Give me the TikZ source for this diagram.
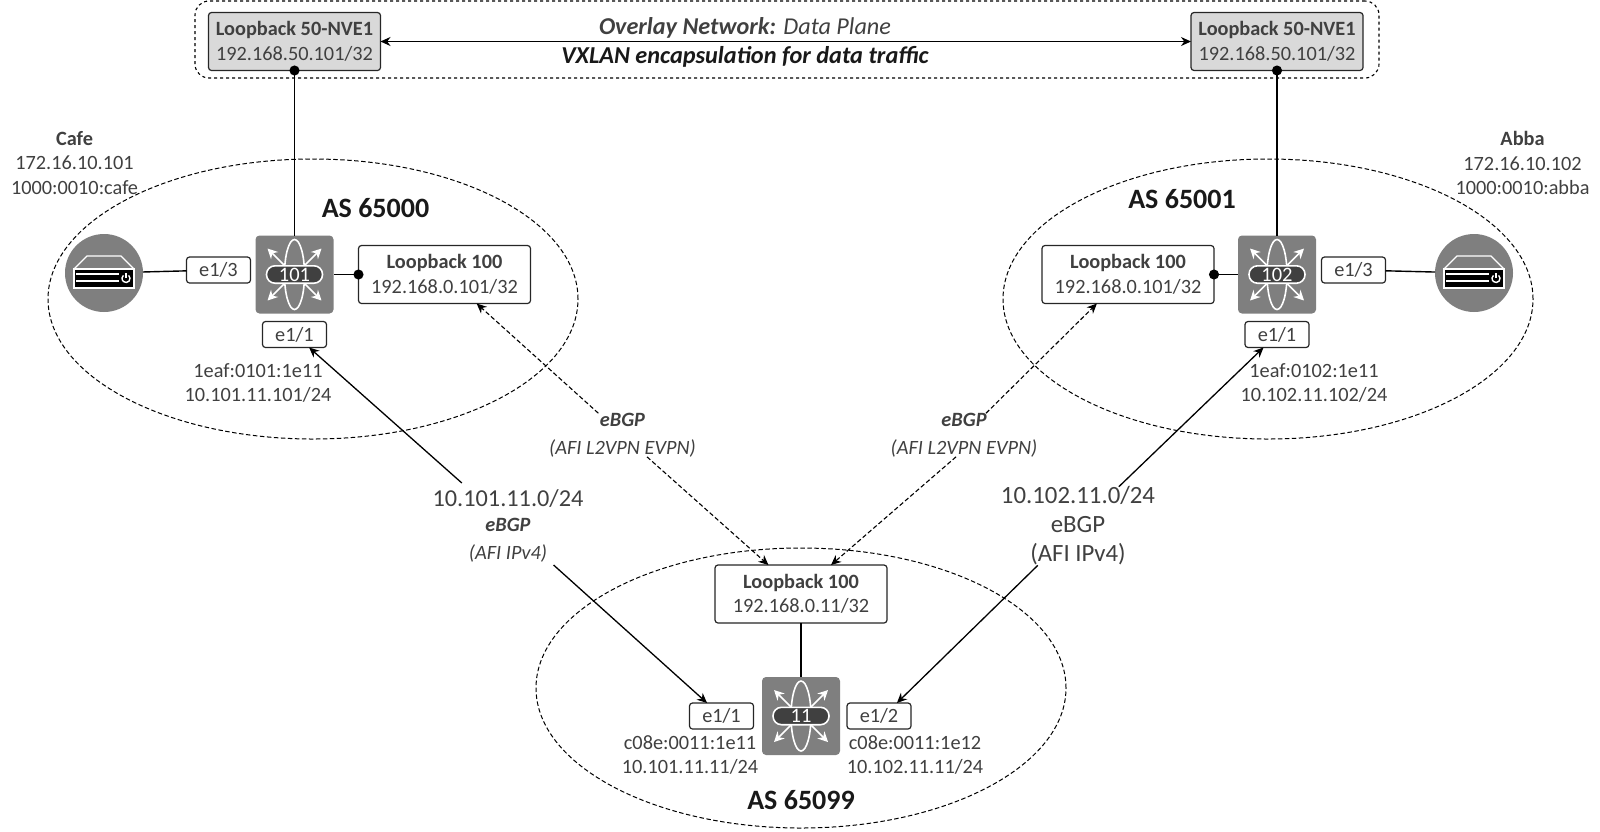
\documentclass[tikz,border=0pt]{standalone}
\usepackage{fontspec}
\setmainfont{Carlito}
\definecolor{icongray}{RGB}{127,127,127}
\definecolor{pilldark}{RGB}{64,64,64}
\definecolor{textgray}{RGB}{64,64,64}
\definecolor{vtepgray}{RGB}{217,217,217}
\usetikzlibrary{arrows.meta, positioning, shapes.geometric}

\tikzset{
  pics/swicon/.style={code={
    \draw[white,line width=1.6pt] (0,0) ellipse (10 and 35);
    \foreach \sx/\sy in {1/1,1/-1,-1/1,-1/-1}
      \draw[white,line width=1.7pt,-{Stealth[length=10pt,width=10pt]}]
        (\sx*10,\sy*9) -- (\sx*27,\sy*26);
    \draw[white,line width=1.6pt,fill=pilldark,rounded corners=8.5pt] (-28,-8.7) rectangle (28,8.7);
    \node[white,font=\fontsize{20.5}{22}\selectfont] (-num) at (0,0) {#1};
  }},
  pics/srvicon/.style={code={
    \draw[white,line width=1.3pt,line join=round] (-30,-4) -- (-17,-17) -- (17,-17) -- (30,-4);
    \draw[white,line width=1.3pt,fill=black] (-30,-4) rectangle (30,15);
    \draw[white,line width=1.5pt] (-28,1) -- (15,1) (-28,8) -- (15,8);
    \draw[white,line width=1.4pt] (24.6,2.4) arc[start angle=-50,end angle=230,radius=4];
    \draw[white,line width=1.4pt] (22,0) -- (22,5);
  }}
}

\begin{document}
\begin{tikzpicture}[x=1pt,y=-1pt,
      font=\fontsize{20.3}{24.5}\selectfont,text=textgray,
      asarea/.style={ellipse,draw,dash pattern=on 4.5pt off 2.5pt,line width=1pt,minimum width=530pt,minimum height=280pt,inner sep=0pt},
      lbbox/.style={draw=black!85,fill=white,rounded corners=3pt,line width=1.2pt,
                  minimum width=172pt,minimum height=58pt,inner sep=0pt,outer sep=0pt,align=center},
      ifbox/.style={draw=black!85,fill=white,rounded corners=3pt,line width=1.2pt,
                  minimum width=64pt,minimum height=26pt,inner sep=0pt,outer sep=0pt},
      swbox/.style={fill=icongray,rounded corners=4pt,minimum width=78pt,minimum height=78pt,inner sep=0pt,outer sep=0pt},
      srvbox/.style={circle,fill=icongray,minimum size=78pt,inner sep=0pt,outer sep=0pt},
      lbl/.style={align=center,inner sep=0pt,outer sep=0pt},
      astitle/.style={font=\fontsize{28}{30}\selectfont\bfseries,text=black!90},
      link/.style={line width=1.4pt,black},
      bgplink/.style={line width=1.1pt,black,dash pattern=on 4.5pt off 2.5pt,-{Stealth[length=10pt,width=9pt]}},
      ebgplink/.style={line width=1.3pt,black,-{Stealth[length=10pt,width=9pt]}},
      dotlink/.style={link,{Circle[length=10pt]}-,shorten <=-5pt}]
    \useasboundingbox (0,0) rectangle (1600,831);
    % AS areas
    \node[asarea] (as65000) at (313,299) {};
    \node[asarea] (as65001) at (1268,299) {};
    \node[asarea] (as65099) at (801,688) {};
    \node[draw,dashed,line width=1.1pt,rounded corners=14pt,minimum width=1184pt,minimum height=77pt] (overlay) at (787,39.5) {};
    % overlay
    \node[lbbox,fill=vtepgray] (nve101) at (294.5,41.5) {\textbf{Loopback 50-NVE1}\\192.168.50.101/32};
    \node[lbbox,fill=vtepgray] (nve102) at (1277,41.5) {\textbf{Loopback 50-NVE1}\\192.168.50.101/32};
    \node[lbl,font=\fontsize{24.2}{26}\selectfont] (ovtext) at (745,27.5) {\textbf{\textit{Overlay Network:}} \textit{Data Plane}};
    \node[lbl,font=\fontsize{24.3}{26}\selectfont\bfseries\itshape,text=black!90] (vxtext) at (745,57) {VXLAN encapsulation for data traffic};
    % leaf 101
    \node[swbox] (sw101) at (294.5,274.5) {};
    \pic at (sw101) {swicon={101}};
    \node[srvbox] (srv101) at (104,273) {};
    \pic at (srv101) {srvicon};
    \node[ifbox] (if101c) at (218.5,270) {e1/3};
    \node[ifbox,below=8pt of sw101] (if101a) {e1/1};
    \node[lbbox,right=25pt of sw101] (lo101) {\textbf{Loopback 100}\\192.168.0.101/32};
    \node[lbl] (cafe) at (74.5,163) {\textbf{Cafe}\\172.16.10.101\\1000:0010:cafe};
    \node[lbl] (addr101) at (258,383) {1eaf:0101:1e11\\10.101.11.101/24};
    \node[astitle] (as0) at (375.5,208) {AS 65000};
    % leaf 102
    \node[swbox] (sw102) at (1277,274.5) {};
    \pic at (sw102) {swicon={102}};
    \node[srvbox] (srv102) at (1474,273) {};
    \pic at (srv102) {srvicon};
    \node[ifbox] (if102c) at (1353.5,270) {e1/3};
    \node[ifbox,below=8pt of sw102] (if102a) {e1/1};
    \node[lbbox,left=24pt of sw102] (lo102) {\textbf{Loopback 100}\\192.168.0.101/32};
    \node[lbl] (abba) at (1522.5,163) {\textbf{Abba}\\172.16.10.102\\1000:0010:abba};
    \node[lbl] (addr102) at (1314,383) {1eaf:0102:1e11\\10.102.11.102/24};
    \node[astitle] (as1) at (1182,199) {AS 65001};
    % spine 11
    \node[swbox] (sw11) at (801,716) {};
    \pic at (sw11) {swicon={11}};
    \node[lbbox] (lo11) at (801,594) {\textbf{Loopback 100}\\192.168.0.11/32};
    \node[ifbox] (if11a) at (721.5,716) {e1/1};
    \node[ifbox] (if11b) at (879,716) {e1/2};
    \node[lbl] (addr11a) at (690,755) {c08e:0011:1e11\\10.101.11.11/24};
    \node[lbl] (addr11b) at (915,755) {c08e:0011:1e12\\10.102.11.11/24};
    \node[astitle] (as99) at (801,800) {AS 65099};
    % link labels
    \node[lbl,font=\fontsize{20.3}{27.5}\selectfont\itshape] (bgp101) at (622.5,435) {\textbf{eBGP}\\(AFI L2VPN EVPN)};
    \node[lbl,font=\fontsize{20.3}{27.5}\selectfont\itshape] (bgp102) at (964,435) {\textbf{eBGP}\\(AFI L2VPN EVPN)};
    \node[lbl,minimum width=150pt,minimum height=82pt] (net101) at (508,524) {};
    \node[lbl,font=\fontsize{24.3}{26}\selectfont] (net101t) at (508,498.5) {10.101.11.0/24};
    \node[lbl,font=\fontsize{20.3}{27.5}\selectfont\itshape] (net101b) at (508,540) {\textbf{eBGP}\\(AFI IPv4)};
    \node[lbl,font=\fontsize{24.8}{29}\selectfont] (net102) at (1078,526) {10.102.11.0/24\\eBGP\\(AFI IPv4)};
    % connectors
    \draw[{Stealth[length=10pt,width=9pt]}-{Stealth[length=10pt,width=9pt]},link] (nve101) -- (nve102);
    \draw[dotlink] (nve101.south) -- (sw101.north);
    \draw[dotlink] (nve102.south) -- (sw102.north);
    \draw[dotlink] (lo101.west) -- (sw101.east);
    \draw[dotlink] (lo102.east) -- (sw102.west);
    \draw[link] (srv101) -- (if101c);
    \draw[link] (srv102) -- (if102c);
    \draw[link] (lo11) -- (sw11);
    \draw[ebgplink] (net101) -- (if101a);
    \draw[ebgplink] (net101) -- (if11a);
    \draw[ebgplink] (net102) -- (if102a);
    \draw[ebgplink] (net102) -- (if11b.36);
    \draw[bgplink] (bgp101) -- (lo101);
    \draw[bgplink] (bgp101) -- (lo11);
    \draw[bgplink] (bgp102) -- (lo102.-137);
    \draw[bgplink] (bgp102.-110) -- (lo11.44);
  \end{tikzpicture}
\end{document}
